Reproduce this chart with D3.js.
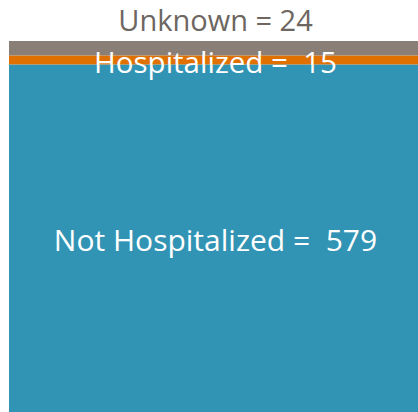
<!DOCTYPE html>
<html>
<head>
<meta charset="utf-8">
<script src="https://cdn.jsdelivr.net/npm/d3@7"></script>
<style>
  body { margin: 0; background: #fff; }
  text { font-family: 'Open Sans', Roboto, sans-serif; white-space: pre; }
</style>
</head>
<body>
<svg class="chart" width="418" height="412"></svg>
<script>
const categories = ['Not Hospitalized', 'Hospitalized', 'Unknown']
const counts = [579, 15, 24]
const labels = ['Not Hospitalized =  579', 'Hospitalized =  15', 'Unknown = 24']
const colors = ['#3194b5', '#e07000', '#8a7f77']

const svg = d3.select('.chart')
const width = +svg.attr('width')
const height = +svg.attr('height')
const margin = {top:41, bottom:0, left:9, right:0}

const total = d3.sum(counts)

// one stacked column
const rows = [Object.fromEntries(categories.map((c,i)=>[c,counts[i]]))]
const series = d3.stack().keys(categories)(rows)

const xScale = d3.scaleBand()
  .domain(['all'])
  .range([margin.left, width - margin.right])
  .padding(0)

const yScale = d3.scaleLinear()
  .domain([0, total])
  .range([height - margin.bottom, margin.top])

svg.selectAll('rect')
  .data(series)
  .enter()
  .append('rect')
  .attr('x', xScale('all'))
  .attr('width', xScale.bandwidth())
  .attr('y', d=>yScale(d[0][1]))
  .attr('height', d=>yScale(d[0][0]) - yScale(d[0][1]))
  .attr('fill', (d,i)=>colors[i])

const cx = xScale('all') + xScale.bandwidth()/2 + 2

// blue and orange labels sit inside their segments
svg.append('text')
  .attr('x', cx)
  .attr('y', (yScale(series[0][0][0]) + yScale(series[0][0][1]))/2 + 2)
  .attr('dy', '0.36em')
  .attr('text-anchor', 'middle')
  .attr('fill', '#fff')
  .attr('font-size', 30)
  .text(labels[0])

svg.append('text')
  .attr('x', cx)
  .attr('y', (yScale(series[1][0][0]) + yScale(series[1][0][1]))/2 + 2)
  .attr('dy', '0.36em')
  .attr('text-anchor', 'middle')
  .attr('fill', '#fff')
  .attr('font-size', 29.5)
  .text(labels[1])

// unknown label above the bar
svg.append('text')
  .attr('x', cx)
  .attr('y', yScale(total) - 10)
  .attr('text-anchor', 'middle')
  .attr('fill', '#6d6661')
  .attr('font-size', 29)
  .text(labels[2])
</script>
</body>
</html>
